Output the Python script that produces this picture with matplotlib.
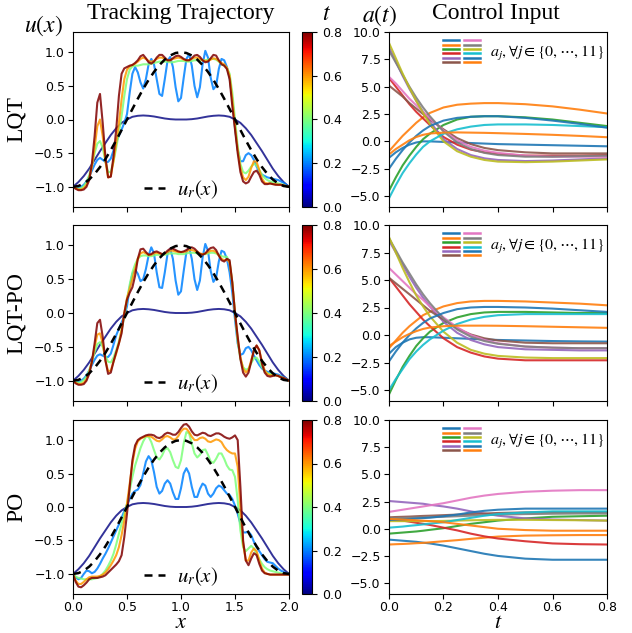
import numpy as np
import matplotlib
matplotlib.use('Agg')
import matplotlib.pyplot as plt
from matplotlib.legend_handler import HandlerBase
from matplotlib.lines import Line2D
from matplotlib.colors import Normalize
from matplotlib.cm import ScalarMappable

plt.rcParams['mathtext.fontset'] = 'stix'
plt.rcParams['font.size'] = 9
SERIF = ['Liberation Serif', 'DejaVu Serif']

# ---------------- data: state trajectories ----------------
x_fine = np.arange(81) * 0.025
x_coarse = np.arange(41) * 0.05
t_colors = [0.0, 0.2, 0.4, 0.6, 0.8]

u_ref = [-1.0, -0.988, -0.951, -0.891, -0.809, -0.707, -0.588, -0.454, -0.309, -0.156, 0.0,
         0.156, 0.309, 0.454, 0.588, 0.707, 0.809, 0.891, 0.951, 0.988, 1.0,
         0.988, 0.951, 0.891, 0.809, 0.707, 0.588, 0.454, 0.309, 0.156, 0.0,
         -0.156, -0.309, -0.454, -0.588, -0.707, -0.809, -0.891, -0.951, -0.988, -1.0]

u_init = [-1.0, -0.93, -0.84, -0.73, -0.6, -0.47, -0.35, -0.23, -0.13, -0.05, 0.0,
          0.04, 0.055, 0.06, 0.055, 0.045, 0.03, 0.015, 0.005, 0.0, 0.0,
          0.0, 0.005, 0.015, 0.03, 0.045, 0.055, 0.06, 0.055, 0.04, 0.0,
          -0.05, -0.13, -0.23, -0.35, -0.47, -0.6, -0.73, -0.84, -0.93, -1.0]

lqt_u02 = [-1.0, -1.01, -1.02, -1.0, -0.97, -0.92, -0.85, -0.76, -0.67, -0.6, -0.57, -0.6, -0.63, -0.63, -0.58, -0.46,
           -0.33, -0.24, -0.15, -0.05, 0.08, 0.4, 0.68, 0.78, 0.7, 0.55, 0.46, 0.6, 0.82, 0.9,
           0.82, 0.6, 0.38, 0.35, 0.6, 0.87, 0.93, 0.78, 0.48, 0.27, 0.32, 0.62, 0.9, 0.97,
           0.8, 0.5, 0.33, 0.48, 0.82, 1.02, 0.92, 0.62, 0.45, 0.5, 0.75, 0.9, 0.88, 0.78,
           0.62, 0.3, -0.12, -0.45, -0.62, -0.62, -0.53, -0.5, -0.53, -0.6, -0.7, -0.78, -0.82,
           -0.84, -0.86, -0.87, -0.88, -0.89, -0.9, -0.92, -0.94, -0.97, -1.0]
lqt_u04 = [-1.0, -1.02, -1.03, -1.02, -0.99, -0.93, -0.83, -0.68, -0.5, -0.36, -0.32, -0.42, -0.62, -0.78, -0.78, -0.62,
           -0.42, -0.2, 0.05, 0.35, 0.6, 0.74, 0.79, 0.8, 0.8, 0.81, 0.82, 0.82, 0.82, 0.83,
           0.84, 0.85, 0.86, 0.86, 0.86, 0.86, 0.85, 0.85, 0.86, 0.87, 0.87, 0.87, 0.86, 0.86,
           0.87, 0.88, 0.88, 0.88, 0.88, 0.88, 0.89, 0.9, 0.9, 0.89, 0.86, 0.82, 0.8, 0.77,
           0.68, 0.4, 0.0, -0.4, -0.66, -0.78, -0.8, -0.76, -0.7, -0.66, -0.68, -0.75, -0.82,
           -0.87, -0.9, -0.92, -0.93, -0.94, -0.95, -0.96, -0.97, -0.99, -1.0]
lqt_u06 = [-1.0, -1.02, -1.04, -1.04, -1.02, -0.97, -0.88, -0.7, -0.42, -0.1, 0.0, -0.25, -0.62, -0.86, -0.84, -0.62,
           -0.35, -0.05, 0.3, 0.6, 0.74, 0.79, 0.81, 0.83, 0.86, 0.9, 0.92, 0.9, 0.87, 0.86,
           0.87, 0.9, 0.92, 0.92, 0.9, 0.88, 0.88, 0.9, 0.91, 0.92, 0.91, 0.89, 0.88, 0.88,
           0.9, 0.92, 0.92, 0.9, 0.88, 0.87, 0.87, 0.89, 0.91, 0.9, 0.87, 0.84, 0.82, 0.77,
           0.65, 0.3, -0.1, -0.45, -0.72, -0.86, -0.9, -0.85, -0.72, -0.62, -0.63, -0.75, -0.88,
           -0.94, -0.95, -0.95, -0.96, -0.96, -0.97, -0.97, -0.98, -0.99, -1.0]
lqt_u08 = [-1.0, -1.03, -1.05, -1.05, -1.04, -1.0, -0.9, -0.65, -0.25, 0.25, 0.38, -0.05, -0.55, -0.86, -0.85, -0.55,
           -0.15, 0.35, 0.68, 0.76, 0.78, 0.8, 0.81, 0.84, 0.88, 0.94, 0.96, 0.91, 0.85, 0.83,
           0.86, 0.92, 0.96, 0.96, 0.92, 0.88, 0.88, 0.91, 0.94, 0.95, 0.93, 0.9, 0.88, 0.88,
           0.91, 0.95, 0.96, 0.93, 0.88, 0.85, 0.86, 0.91, 0.96, 0.95, 0.88, 0.82, 0.8, 0.75,
           0.6, 0.2, -0.15, -0.5, -0.78, -0.92, -0.95, -0.93, -0.85, -0.78, -0.76, -0.82, -0.92,
           -0.96, -0.96, -0.95, -0.96, -0.97, -0.97, -0.97, -0.98, -0.99, -1.0]

lqtpo_u02 = [-1.0, -1.01, -1.02, -1.0, -0.97, -0.92, -0.85, -0.77, -0.69, -0.63, -0.61, -0.63, -0.65, -0.65, -0.6, -0.47,
             -0.33, -0.23, -0.14, -0.05, 0.1, 0.38, 0.58, 0.64, 0.58, 0.47, 0.5, 0.65, 0.85, 0.97,
             0.88, 0.6, 0.38, 0.37, 0.6, 0.87, 0.95, 0.8, 0.48, 0.27, 0.32, 0.62, 0.9, 0.97,
             0.8, 0.5, 0.34, 0.48, 0.82, 1.02, 0.92, 0.62, 0.46, 0.52, 0.76, 0.92, 0.9, 0.8,
             0.6, 0.3, -0.1, -0.45, -0.62, -0.6, -0.52, -0.5, -0.55, -0.63, -0.7, -0.77, -0.82,
             -0.85, -0.87, -0.88, -0.89, -0.9, -0.91, -0.93, -0.95, -0.97, -1.0]
lqtpo_u04 = [-1.0, -1.02, -1.03, -1.02, -0.99, -0.94, -0.85, -0.72, -0.58, -0.46, -0.43, -0.5, -0.63, -0.72, -0.73, -0.66,
             -0.55, -0.42, -0.25, -0.05, 0.2, 0.42, 0.6, 0.72, 0.8, 0.84, 0.85, 0.85, 0.84, 0.84,
             0.85, 0.86, 0.86, 0.86, 0.86, 0.87, 0.88, 0.88, 0.88, 0.87, 0.87, 0.87, 0.88, 0.89,
             0.89, 0.89, 0.88, 0.87, 0.87, 0.87, 0.88, 0.89, 0.89, 0.88, 0.86, 0.84, 0.83, 0.83,
             0.75, 0.45, 0.0, -0.42, -0.68, -0.8, -0.84, -0.82, -0.74, -0.67, -0.66, -0.72, -0.8,
             -0.86, -0.89, -0.9, -0.91, -0.92, -0.93, -0.94, -0.96, -0.98, -1.0]
lqtpo_u06 = [-1.0, -1.03, -1.05, -1.05, -1.03, -0.98, -0.88, -0.72, -0.5, -0.32, -0.3, -0.45, -0.7, -0.86, -0.85, -0.72,
             -0.6, -0.45, -0.25, 0.0, 0.22, 0.36, 0.5, 0.65, 0.8, 0.88, 0.9, 0.88, 0.86, 0.86,
             0.88, 0.89, 0.88, 0.87, 0.88, 0.9, 0.92, 0.92, 0.91, 0.9, 0.9, 0.9, 0.91, 0.93,
             0.93, 0.92, 0.9, 0.88, 0.87, 0.88, 0.9, 0.92, 0.92, 0.9, 0.85, 0.8, 0.78, 0.79,
             0.75, 0.45, 0.0, -0.38, -0.65, -0.82, -0.88, -0.84, -0.7, -0.56, -0.48, -0.55, -0.72,
             -0.85, -0.9, -0.92, -0.92, -0.92, -0.93, -0.95, -0.96, -0.98, -1.0]
lqtpo_u08 = [-1.0, -1.04, -1.06, -1.06, -1.05, -1.0, -0.9, -0.72, -0.45, -0.15, -0.1, -0.35, -0.7, -0.9, -0.88, -0.72,
             -0.58, -0.45, -0.3, 0.0, 0.2, 0.3, 0.38, 0.55, 0.8, 0.94, 0.95, 0.9, 0.86, 0.87,
             0.9, 0.91, 0.89, 0.87, 0.88, 0.92, 0.95, 0.95, 0.93, 0.91, 0.9, 0.91, 0.93, 0.96,
             0.97, 0.95, 0.91, 0.87, 0.86, 0.88, 0.93, 0.96, 0.97, 0.93, 0.85, 0.78, 0.76, 0.8,
             0.78, 0.45, 0.0, -0.35, -0.68, -0.88, -0.94, -0.88, -0.72, -0.55, -0.48, -0.55, -0.75,
             -0.88, -0.93, -0.94, -0.93, -0.92, -0.93, -0.95, -0.96, -0.98, -1.0]

po_u02 = [-1.0, -1.05, -1.08, -1.06, -1.0, -0.95, -0.96, -0.99, -0.97, -0.92, -0.85, -0.77, -0.7, -0.62, -0.53, -0.44,
          -0.35, -0.26, -0.16, -0.06, 0.03, 0.12, 0.2, 0.24, 0.26, 0.33, 0.5, 0.68, 0.76, 0.7,
          0.52, 0.3, 0.2, 0.24, 0.35, 0.4, 0.35, 0.22, 0.12, 0.12, 0.28, 0.5, 0.58, 0.5,
          0.3, 0.15, 0.15, 0.27, 0.35, 0.32, 0.2, 0.15, 0.2, 0.28, 0.32, 0.3, 0.25, 0.2,
          0.18, 0.12, 0.02, -0.1, -0.25, -0.38, -0.38, -0.37, -0.42, -0.52, -0.6, -0.66, -0.72,
          -0.78, -0.82, -0.83, -0.84, -0.88, -0.92, -0.95, -0.97, -0.99, -1.0]
po_u04 = [-1.0, -1.04, -1.06, -1.07, -1.08, -1.08, -1.08, -1.08, -1.07, -1.06, -1.04, -1.0, -0.95, -0.88, -0.8, -0.7,
          -0.56, -0.4, -0.25, -0.1, 0.05, 0.25, 0.45, 0.62, 0.75, 0.88, 0.98, 1.05, 1.05, 0.97,
          0.85, 0.74, 0.71, 0.77, 0.86, 0.88, 0.82, 0.7, 0.6, 0.58, 0.7, 0.95, 1.12, 1.1,
          0.95, 0.8, 0.74, 0.78, 0.85, 0.86, 0.78, 0.68, 0.66, 0.72, 0.8, 0.8, 0.72, 0.62,
          0.56, 0.55, 0.45, 0.1, -0.35, -0.6, -0.66, -0.62, -0.58, -0.62, -0.7, -0.78, -0.85,
          -0.9, -0.93, -0.95, -0.96, -0.97, -0.98, -0.99, -1.0, -1.0, -1.0]
po_u06 = [-1.0, -1.1, -1.15, -1.15, -1.12, -1.08, -1.05, -1.04, -1.04, -1.04, -1.03, -1.01, -0.98, -0.93, -0.87, -0.8,
          -0.72, -0.6, -0.42, -0.2, 0.05, 0.35, 0.65, 0.87, 0.98, 1.02, 1.04, 1.06, 1.06, 1.05,
          1.02, 0.99, 0.98, 1.01, 1.05, 1.06, 1.04, 1.01, 1.01, 1.06, 1.13, 1.17, 1.17, 1.12,
          1.05, 1.0, 1.0, 1.03, 1.04, 1.02, 0.98, 0.97, 0.99, 1.01, 1.0, 0.97, 0.9, 0.85,
          0.82, 0.8, 0.8, 0.6, 0.0, -0.55, -0.8, -0.8, -0.68, -0.62, -0.66, -0.8, -0.92,
          -0.98, -1.0, -1.01, -1.01, -1.01, -1.01, -1.01, -1.01, -1.01, -1.01]
po_u08 = [-1.0, -1.12, -1.19, -1.2, -1.17, -1.13, -1.08, -1.06, -1.06, -1.06, -1.05, -1.04, -1.02, -0.98, -0.94, -0.9,
          -0.86, -0.81, -0.72, -0.45, -0.1, 0.3, 0.7, 0.92, 1.0, 1.03, 1.05, 1.07, 1.08, 1.08,
          1.07, 1.04, 1.03, 1.05, 1.09, 1.11, 1.1, 1.08, 1.08, 1.12, 1.18, 1.23, 1.24, 1.2,
          1.13, 1.08, 1.07, 1.09, 1.11, 1.1, 1.07, 1.06, 1.08, 1.1, 1.1, 1.08, 1.05, 1.03,
          1.02, 1.04, 1.07, 1.0, 0.3, -0.5, -0.8, -0.87, -0.77, -0.69, -0.72, -0.85, -0.95,
          -0.99, -1.0, -1.01, -1.01, -1.01, -1.01, -1.01, -1.01, -1.01, -1.01]

# ---------------- data: control inputs ----------------
t_ctrl = [0, 0.025, 0.05, 0.075, 0.1, 0.125, 0.15, 0.2, 0.25, 0.3, 0.35, 0.4, 0.5, 0.6, 0.7, 0.8]

lqt_a = [
    [-1.5, -1.0, -0.6, -0.3, -0.1, 0.0, 0.0, -0.05, -0.1, -0.15, -0.2, -0.25, -0.3, -0.35, -0.4, -0.45],   # a0
    [-0.9, -0.2, 0.5, 1.1, 1.7, 2.2, 2.6, 3.1, 3.35, 3.45, 3.5, 3.5, 3.4, 3.2, 2.9, 2.55],               # a1
    [-4.5, -3.3, -2.2, -1.3, -0.5, 0.2, 0.7, 1.5, 2.0, 2.25, 2.3, 2.3, 2.2, 2.0, 1.7, 1.4],              # a2
    [5.8, 5.0, 4.2, 3.4, 2.7, 2.1, 1.5, 0.4, -0.3, -0.75, -1.0, -1.15, -1.3, -1.3, -1.3, -1.25],         # a3
    [8.6, 7.3, 6.0, 4.8, 3.7, 2.7, 1.8, 0.2, -0.7, -1.25, -1.55, -1.7, -1.8, -1.75, -1.65, -1.55],       # a4
    [5.1, 4.6, 4.1, 3.5, 3.0, 2.5, 2.0, 1.1, 0.3, -0.25, -0.6, -0.8, -1.0, -1.1, -1.1, -1.1],            # a5
    [5.9, 5.3, 4.6, 3.9, 3.3, 2.7, 2.1, 1.0, 0.1, -0.5, -0.85, -1.05, -1.3, -1.4, -1.4, -1.4],           # a6
    [8.3, 7.2, 6.1, 5.0, 4.0, 3.1, 2.3, 0.9, -0.1, -0.7, -1.05, -1.25, -1.4, -1.4, -1.35, -1.3],         # a7
    [9.0, 7.6, 6.2, 4.9, 3.7, 2.6, 1.6, 0.0, -0.9, -1.4, -1.7, -1.85, -1.9, -1.85, -1.75, -1.65],        # a8
    [-5.2, -4.0, -2.9, -2.0, -1.2, -0.5, 0.0, 0.7, 1.1, 1.35, 1.5, 1.55, 1.55, 1.5, 1.4, 1.3],           # a9
    [-2.5, -1.6, -0.8, -0.1, 0.5, 1.0, 1.4, 1.9, 2.15, 2.25, 2.3, 2.3, 2.15, 1.9, 1.6, 1.25],            # a10
    [-1.2, -0.7, -0.3, 0.1, 0.4, 0.6, 0.72, 0.8, 0.82, 0.8, 0.78, 0.75, 0.68, 0.6, 0.5, 0.38],           # a11
]
lqtpo_a = [
    [-1.7, -1.1, -0.7, -0.4, -0.25, -0.2, -0.2, -0.25, -0.3, -0.35, -0.4, -0.45, -0.5, -0.55, -0.58, -0.6],
    [-1.2, -0.5, 0.2, 0.8, 1.3, 1.8, 2.1, 2.6, 2.9, 3.05, 3.1, 3.1, 3.05, 2.95, 2.85, 2.7],
    [-5.4, -4.1, -2.9, -1.9, -1.0, -0.3, 0.3, 1.1, 1.6, 1.9, 2.05, 2.1, 2.1, 2.05, 2.0, 2.0],
    [5.2, 4.4, 3.6, 2.8, 2.1, 1.4, 0.8, -0.3, -1.1, -1.6, -1.95, -2.15, -2.3, -2.3, -2.3, -2.3],
    [8.6, 7.5, 6.4, 5.3, 4.3, 3.4, 2.6, 1.2, 0.2, -0.45, -0.85, -1.1, -1.3, -1.35, -1.4, -1.4],
    [5.2, 4.7, 4.2, 3.7, 3.2, 2.7, 2.2, 1.4, 0.6, 0.05, -0.3, -0.5, -0.7, -0.75, -0.75, -0.75],
    [6.1, 5.5, 4.9, 4.3, 3.7, 3.2, 2.6, 1.6, 0.7, 0.0, -0.45, -0.75, -1.05, -1.15, -1.2, -1.2],
    [8.8, 7.7, 6.6, 5.6, 4.6, 3.7, 2.9, 1.5, 0.5, -0.15, -0.55, -0.8, -1.05, -1.15, -1.2, -1.2],
    [8.9, 7.5, 6.1, 4.8, 3.6, 2.6, 1.7, 0.3, -0.7, -1.35, -1.7, -1.9, -2.05, -2.1, -2.1, -2.1],
    [-5.0, -4.0, -3.1, -2.2, -1.5, -0.9, -0.4, 0.4, 1.0, 1.4, 1.65, 1.8, 1.9, 1.9, 1.9, 1.9],
    [-2.4, -1.5, -0.7, 0.0, 0.6, 1.1, 1.5, 2.0, 2.35, 2.5, 2.55, 2.55, 2.5, 2.4, 2.25, 2.1],
    [-1.0, -0.6, -0.2, 0.1, 0.35, 0.55, 0.68, 0.8, 0.85, 0.85, 0.85, 0.84, 0.8, 0.75, 0.7, 0.65],
]
po_a = [
    [-1.0, -1.05, -1.1, -1.15, -1.2, -1.28, -1.35, -1.55, -1.8, -2.05, -2.3, -2.5, -2.75, -2.85, -2.85, -2.85],
    [-1.45, -1.42, -1.4, -1.37, -1.33, -1.3, -1.25, -1.15, -1.05, -0.93, -0.82, -0.72, -0.63, -0.6, -0.58, -0.58],
    [-0.45, -0.4, -0.35, -0.3, -0.25, -0.18, -0.1, 0.05, 0.25, 0.45, 0.6, 0.75, 0.95, 1.1, 1.15, 1.2],
    [0.85, 0.8, 0.75, 0.65, 0.55, 0.45, 0.35, 0.1, -0.15, -0.45, -0.7, -0.9, -1.15, -1.35, -1.42, -1.45],
    [2.55, 2.5, 2.45, 2.4, 2.35, 2.3, 2.2, 2.05, 1.85, 1.6, 1.4, 1.2, 0.95, 0.85, 0.8, 0.75],
    [1.05, 1.08, 1.1, 1.12, 1.15, 1.18, 1.2, 1.25, 1.3, 1.35, 1.4, 1.45, 1.5, 1.52, 1.52, 1.52],
    [1.55, 1.65, 1.75, 1.85, 1.95, 2.05, 2.15, 2.35, 2.6, 2.85, 3.05, 3.2, 3.4, 3.5, 3.55, 3.55],
    [0.95, 0.97, 0.99, 1.0, 1.02, 1.04, 1.06, 1.1, 1.15, 1.2, 1.25, 1.3, 1.35, 1.38, 1.4, 1.4],
    [0.7, 0.7, 0.7, 0.7, 0.7, 0.7, 0.7, 0.72, 0.75, 0.78, 0.8, 0.82, 0.82, 0.8, 0.78, 0.75],
    [0.1, 0.15, 0.2, 0.27, 0.33, 0.4, 0.47, 0.6, 0.8, 1.0, 1.2, 1.35, 1.5, 1.6, 1.6, 1.6],
    [0.8, 0.83, 0.86, 0.9, 0.94, 0.98, 1.02, 1.15, 1.3, 1.5, 1.65, 1.75, 1.85, 1.85, 1.85, 1.85],
    [0.9, 0.88, 0.85, 0.82, 0.78, 0.74, 0.7, 0.6, 0.45, 0.3, 0.15, 0.0, -0.12, -0.18, -0.18, -0.18],
]

row_names = ['LQT', 'LQT-PO', 'PO']
states = [[lqt_u02, lqt_u04, lqt_u06, lqt_u08],
          [lqtpo_u02, lqtpo_u04, lqtpo_u06, lqtpo_u08],
          [po_u02, po_u04, po_u06, po_u08]]
controls = [lqt_a, lqtpo_a, po_a]

# ---------------- figure ----------------
W, H = 632, 633
fig = plt.figure(figsize=(W / 100, H / 100), dpi=100)

def fx(px):
    return px / W

def fy(py):
    return 1 - py / H

rows_px = [(32, 207), (225, 401), (420, 594)]
cmap = plt.get_cmap('jet')
norm = Normalize(0, 0.8)
tab = plt.rcParams['axes.prop_cycle'].by_key()['color']
ctrl_colors = [tab[i % 10] for i in range(12)]


class GridHandler(HandlerBase):
    def __init__(self, colors, **kw):
        super().__init__(**kw)
        self.colors = colors

    def create_artists(self, legend, orig_handle, xdescent, ydescent, width, height, fontsize, trans):
        arts = []
        step = 3.2
        cw = width * 0.44
        for k, c in enumerate(self.colors):
            col, r = divmod(k, 6)
            y = height / 2 - ydescent + (2.5 - r) * step
            x0 = -xdescent + col * (width - cw)
            ln = Line2D([x0, x0 + cw], [y, y], color=c, lw=1.8, transform=trans)
            arts.append(ln)
        return arts


for r, (top, bot) in enumerate(rows_px):
    # left: state trajectories
    axl = fig.add_axes([fx(73), fy(bot), fx(289 - 73), (bot - top) / H])
    axl.plot(x_coarse, u_init, color=cmap(norm(t_colors[0])), lw=1.4, alpha=0.8)
    for k, yv in enumerate(states[r]):
        axl.plot(x_fine, yv, color=cmap(norm(t_colors[k + 1])), lw=1.5, alpha=0.85)
    ref_line, = axl.plot(x_coarse, u_ref, 'k--', lw=1.8, dashes=(3.2, 2.4))
    axl.set_xlim(0, 2)
    axl.set_ylim(-1.3, 1.3)
    axl.set_xticks([0, 0.5, 1.0, 1.5, 2.0])
    axl.set_yticks([-1.0, -0.5, 0.0, 0.5, 1.0])
    axl.tick_params(labelsize=9, pad=2.5)
    axl.tick_params(axis='x', pad=1.5)
    if r < 2:
        axl.set_xticklabels([])
    axl.legend([ref_line], [r'$u_r(x)$'], loc='center', bbox_to_anchor=(0.5, 0.1),
               frameon=False, fontsize=15, handlelength=1.0, handletextpad=0.6,
               borderpad=0.0, borderaxespad=0.0)

    cax = fig.add_axes([fx(302), fy(bot), fx(10), (bot - top) / H])
    cb = fig.colorbar(ScalarMappable(norm=norm, cmap=cmap), cax=cax)
    cb.set_ticks([0.0, 0.2, 0.4, 0.6, 0.8])
    cb.ax.tick_params(labelsize=9)

    # right: control inputs
    axr = fig.add_axes([fx(389), fy(bot), fx(607 - 389), (bot - top) / H])
    for j, av in enumerate(controls[r]):
        axr.plot(t_ctrl, av, color=ctrl_colors[j], lw=1.5, alpha=0.9)
    axr.set_xlim(0, 0.8)
    axr.set_ylim(-6, 10)
    axr.set_xticks([0, 0.2, 0.4, 0.6, 0.8])
    axr.set_yticks([-5.0, -2.5, 0.0, 2.5, 5.0, 7.5, 10.0])
    axr.tick_params(labelsize=9, pad=2.5)
    axr.tick_params(axis='x', pad=1.5)
    if r < 2:
        axr.set_xticklabels([])
    dummy = Line2D([], [])
    axr.legend([dummy], [r'$a_j, \forall j \in \{0,\cdots,11\}$'], loc='upper right',
               bbox_to_anchor=(1.0, 0.95), frameon=False, fontsize=11.5,
               handler_map={Line2D: GridHandler(ctrl_colors)}, handlelength=2.3,
               handletextpad=0.6, borderaxespad=0.0, borderpad=0.2)

    fig.text(fx(16.5), fy((top + bot) / 2), row_names[r], rotation=90, ha='center', va='center',
             fontsize=17, family=SERIF)

fig.text(fx(181), fy(14), 'Tracking Trajectory', ha='center', va='center', fontsize=17, family=SERIF)
fig.text(fx(496), fy(14), 'Control Input', ha='center', va='center', fontsize=17, family=SERIF)
fig.text(fx(43), fy(26), r'$u(x)$', ha='center', va='center', fontsize=17)
fig.text(fx(380), fy(16), r'$a(t)$', ha='center', va='center', fontsize=17)
fig.text(fx(327), fy(13), r'$t$', ha='center', va='center', fontsize=17)
fig.text(fx(181), fy(632), r'$x$', ha='center', va='bottom', fontsize=16)
fig.text(fx(498), fy(632), r'$t$', ha='center', va='bottom', fontsize=16)

fig.savefig('out.png', dpi=100)
